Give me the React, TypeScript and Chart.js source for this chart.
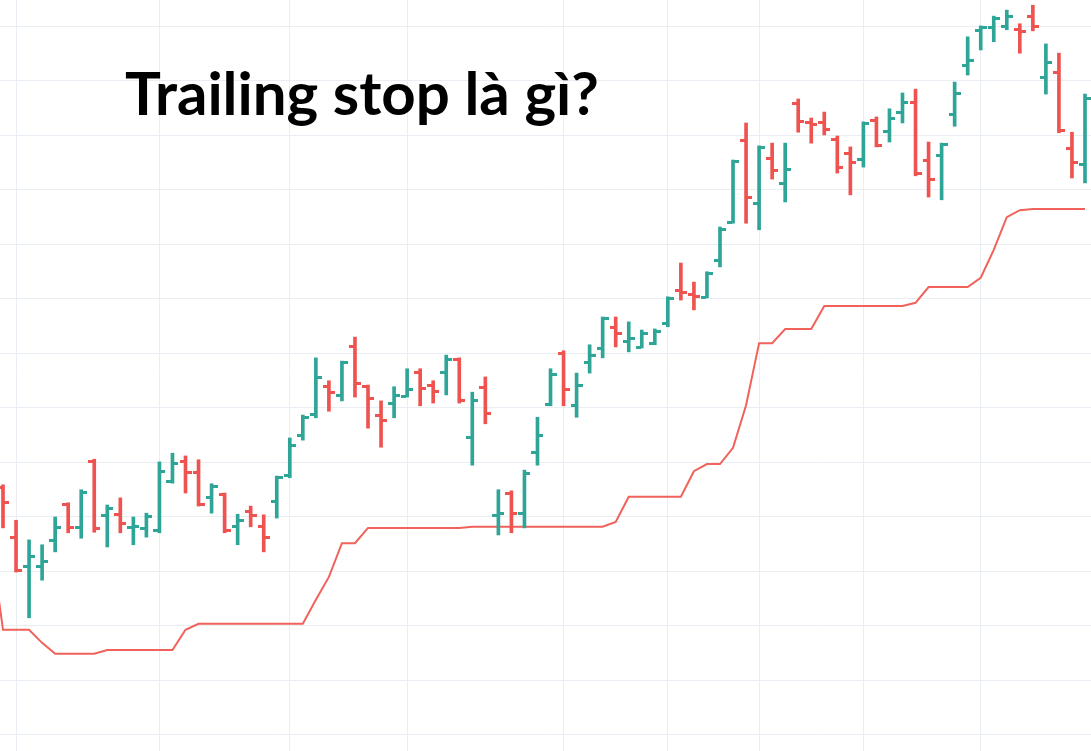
import React, { useEffect, useRef } from "react";
import { Chart, registerables } from "chart.js";

Chart.register(...registerables);

const TITLE = "Trailing stop là gì?";

const OPEN = [
  145.5, 136.3, 131.0, 131.0, 135.8, 142.4, 138.2, 150.3, 140.4, 140.5,
  138.2, 138.0, 137.6, 146.6, 150.3, 148.3, 143.7, 144.2, 138.4, 141.1,
  138.4, 142.9, 147.7, 155.0, 158.9, 164.0, 162.4, 171.4, 164.0, 158.7,
  160.9, 162.2, 166.6, 164.2, 166.6, 169.0, 154.7, 163.9, 140.4, 144.4,
  140.7, 151.9, 160.7, 170.1, 160.5, 168.4, 171.0, 174.9, 172.3, 171.2,
  171.9, 175.6, 181.6, 180.9, 180.4, 187.2, 194.1, 209.2, 197.6, 205.9,
  201.3, 216.0, 212.5, 212.5, 209.4, 206.8, 205.7, 212.8, 210.8, 214.3,
  216.1, 205.5, 206.4, 213.9, 222.9, 229.4, 229.9, 230.1, 229.5, 231.9,
  220.7, 221.7, 207.7, 204.8,
];

const HIGH = [
  145.9, 139.4, 135.8, 134.9, 140.0, 142.6, 145.0, 150.6, 142.2, 143.5,
  140.0, 140.7, 150.1, 151.7, 151.2, 150.5, 146.1, 144.4, 140.5, 142.0,
  140.4, 147.5, 154.5, 158.7, 169.2, 165.0, 168.6, 173.0, 164.2, 161.3,
  163.9, 167.2, 167.2, 165.0, 169.7, 169.2, 162.9, 165.7, 145.0, 144.8,
  148.6, 158.3, 167.2, 170.5, 166.4, 171.6, 176.7, 176.7, 175.8, 174.3,
  174.5, 180.4, 186.6, 183.1, 185.0, 193.2, 205.5, 212.3, 208.1, 208.6,
  208.6, 216.7, 213.2, 214.3, 209.9, 207.9, 212.5, 213.4, 214.9, 217.8,
  218.5, 208.8, 208.6, 219.8, 228.1, 230.1, 231.9, 233.0, 230.5, 233.9,
  226.8, 225.1, 210.6, 217.6,
];

const LOW = [
  138.0, 129.9, 121.5, 128.4, 133.6, 137.1, 136.1, 137.2, 134.5, 137.1,
  134.9, 136.3, 137.1, 146.2, 144.4, 142.0, 140.7, 137.1, 134.9, 138.2,
  133.6, 139.8, 147.2, 154.1, 158.2, 159.4, 161.3, 162.0, 156.3, 152.8,
  158.2, 162.0, 160.4, 160.9, 162.4, 160.9, 149.5, 157.1, 136.7, 137.1,
  138.0, 149.5, 160.4, 160.4, 158.3, 166.4, 169.2, 171.2, 170.3, 171.0,
  171.6, 174.9, 179.8, 178.0, 180.2, 185.9, 193.9, 193.9, 192.7, 202.0,
  197.8, 210.6, 208.6, 210.1, 203.1, 199.1, 204.2, 207.9, 208.8, 212.3,
  202.6, 198.7, 198.2, 211.7, 221.1, 225.7, 227.2, 229.4, 225.1, 229.2,
  217.6, 210.5, 202.2, 201.3,
];

const CLOSE = [
  142.7, 130.3, 132.8, 131.9, 138.2, 138.2, 144.6, 138.0, 141.6, 138.9,
  138.4, 140.2, 148.4, 149.9, 148.3, 142.4, 145.7, 137.6, 139.4, 140.4,
  136.3, 147.3, 153.2, 158.3, 165.7, 162.9, 168.4, 164.6, 161.8, 157.8,
  162.4, 163.5, 163.7, 163.1, 169.0, 161.5, 161.5, 159.1, 140.7, 140.7,
  148.1, 155.0, 166.2, 163.5, 164.2, 169.7, 176.5, 173.8, 172.8, 173.8,
  174.1, 180.2, 181.3, 180.5, 184.8, 192.8, 205.3, 198.7, 207.9, 203.7,
  203.9, 212.7, 212.1, 211.2, 204.2, 205.1, 212.3, 208.3, 213.2, 216.1,
  203.1, 202.0, 208.4, 217.8, 223.9, 229.9, 231.6, 231.9, 229.2, 230.1,
  223.5, 211.0, 205.1, 216.9,
];

// trailing stop, starting one bar before the first visible bar
const STOP_START = -1;
const STOP = [
  136.7,
  119.3, 119.3, 119.3, 116.9, 114.9, 114.9, 114.9, 114.9, 115.6, 115.6,
  115.6, 115.6, 115.6, 115.6, 119.3, 120.4, 120.4, 120.4, 120.4, 120.4,
  120.4, 120.4, 120.4, 120.4, 124.8, 129.0, 135.2, 135.2, 138.0, 138.0,
  138.0, 138.0, 138.0, 138.0, 138.0, 138.0, 138.2, 138.2, 138.2, 138.2,
  138.2, 138.2, 138.2, 138.2, 138.2, 138.2, 138.2, 139.1, 143.7, 143.7,
  143.7, 143.7, 143.7, 148.4, 149.7, 149.7, 152.7, 160.5, 171.9, 171.9,
  174.5, 174.5, 174.5, 178.7, 178.7, 178.7, 178.7, 178.7, 178.7, 178.7,
  179.3, 182.2, 182.2, 182.2, 182.2, 183.9, 189.0, 195.0, 196.3, 196.5,
  196.5, 196.5, 196.5, 196.5,
];

// grid positions
const X_GRID = [1, 12, 22, 31, 43, 51, 58, 66, 75];
const Y_GRID = [100, 110, 120, 130, 140, 150, 160, 170, 180, 190, 200, 210, 220, 230];

const UP = "#2ea597";
const DOWN = "#ee5350";
const STOP_COLOR = "#f0625a";
const GRID = "#e9eef5";

const ohlcTicks = {
  id: "ohlcTicks",
  afterDatasetsDraw(chart: any) {
    const { ctx, chartArea, scales } = chart;
    const xs = scales.x;
    const ys = scales.y;
    ctx.save();
    ctx.beginPath();
    ctx.rect(chartArea.left, chartArea.top, chartArea.right - chartArea.left, chartArea.bottom - chartArea.top);
    ctx.clip();
    for (let i = 0; i < OPEN.length; i++) {
      const px = Math.round(xs.getPixelForValue(i));
      const po = Math.round(ys.getPixelForValue(OPEN[i]));
      const pc = Math.round(ys.getPixelForValue(CLOSE[i]));
      ctx.fillStyle = CLOSE[i] >= OPEN[i] ? UP : DOWN;
      ctx.fillRect(px - 6, po - 1, 5, 3);
      ctx.fillRect(px + 1, pc - 1, 5, 3);
    }
    ctx.restore();
  },
};

export default function App() {
  const ref = useRef<HTMLCanvasElement | null>(null);

  useEffect(() => {
    if (!ref.current) return;
    const colors = OPEN.map((o, i) => (CLOSE[i] >= o ? UP : DOWN));
    const chart = new Chart(ref.current, {
      type: "bar",
      data: {
        datasets: [
          {
            type: "bar",
            label: "OHLC",
            data: HIGH.map((h, i) => ({ x: i, y: [LOW[i], h] })) as any,
            backgroundColor: colors,
            borderWidth: 0,
            barThickness: 3,
            order: 0,
          } as any,
          {
            type: "line",
            label: "Trailing stop",
            data: STOP.map((v, k) => ({ x: k + STOP_START, y: v })),
            borderColor: STOP_COLOR,
            borderWidth: 2,
            pointRadius: 0,
            tension: 0,
            fill: false,
            order: 1,
          },
        ],
      },
      options: {
        responsive: false,
        animation: false,
        layout: { padding: 0 },
        plugins: {
          legend: { display: false },
          tooltip: { enabled: false },
          title: { display: false },
        },
        scales: {
          x: {
            type: "linear",
            offset: false,
            min: -0.23,
            max: 83.46,
            afterBuildTicks: (s: any) => {
              s.ticks = X_GRID.map((v) => ({ value: v }));
            },
            ticks: { display: false },
            grid: { color: GRID, lineWidth: 1, drawTicks: false, offset: false },
            border: { display: false },
          },
          y: {
            type: "linear",
            min: 97.06,
            max: 234.86,
            afterBuildTicks: (s: any) => {
              s.ticks = Y_GRID.map((v) => ({ value: v }));
            },
            ticks: { display: false },
            grid: { color: GRID, lineWidth: 1, drawTicks: false },
            border: { display: false },
          },
        },
      },
      plugins: [ohlcTicks],
    });
    return () => chart.destroy();
  }, []);

  return (
    <div style={{ position: "fixed", left: 0, top: 0, width: 1091, height: 751, background: "#fff", overflow: "hidden" }}>
      <canvas ref={ref} width={1091} height={751} style={{ display: "block" }} />
      <div
        style={{
          position: "absolute",
          left: 125,
          top: 62,
          fontFamily: "Lato, 'Open Sans', sans-serif",
          fontWeight: 700,
          fontSize: 60,
          lineHeight: "60px",
          color: "#000",
          whiteSpace: "nowrap",
        }}
      >
        {TITLE}
      </div>
    </div>
  );
}
